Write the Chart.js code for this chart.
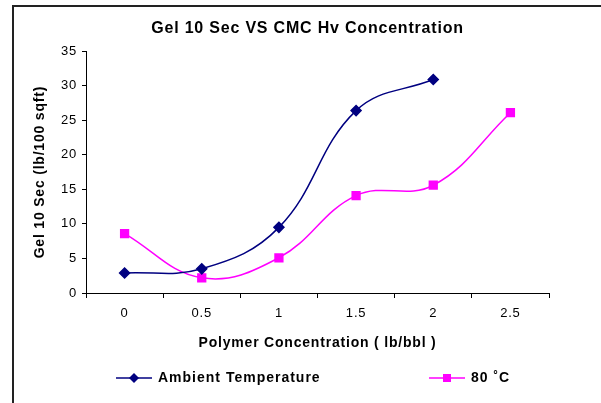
<!DOCTYPE html>
<html>
<head>
<meta charset="utf-8">
<script src="https://cdn.jsdelivr.net/npm/chart.js@4"></script>
<style>
  html, body { margin: 0; padding: 0; background: #fff; }
  #wrap { position: absolute; left: 0; top: 0; width: 601px; height: 403px; }
</style>
</head>
<body>
<div id="wrap"><canvas id="gelChart" width="601" height="403"></canvas></div>
<script>
var categories = ["0", "0.5", "1", "1.5", "2", "2.5"];
var ambientTemp = [2.9, 3.5, 9.5, 26.4, 30.9, null];
var temp80 = [8.6, 2.2, 5.1, 14.1, 15.6, 26.1];
var yMin = 0, yMax = 35, yStep = 5;

var FONT = "'Liberation Sans', Arial, sans-serif";

// the old Excel text is loosely spaced, so widen it a little
var spacingPlugin = {
	id: 'spacing',
	beforeDraw: function (chart) {
		if ('letterSpacing' in chart.ctx) chart.ctx.letterSpacing = '0.8px';
	},
	beforeDatasetsDraw: function (chart) {
		if ('letterSpacing' in chart.ctx) chart.ctx.letterSpacing = '0px';
	}
};

// frame lines + legend drawn by hand (Excel style line + marker)
var framePlugin = {
	id: 'frameAndLegend',
	afterDraw: function (chart) {
		var ctx = chart.ctx;
		ctx.save();
		ctx.fillStyle = '#222';
		ctx.fillRect(12, 5, 2, 398);
		ctx.fillRect(12, 5, 589, 2);

		var items = [
			{ x: 116, ds: chart.data.datasets[0] },
			{ x: 429, ds: chart.data.datasets[1] }
		];
		var y = 378;
		items.forEach(function (it) {
			ctx.strokeStyle = it.ds.borderColor;
			ctx.lineWidth = 1.5;
			ctx.beginPath();
			ctx.moveTo(it.x, y);
			ctx.lineTo(it.x + 36, y);
			ctx.stroke();
			ctx.fillStyle = it.ds.pointBackgroundColor;
			ctx.beginPath();
			if (it.ds.pointStyle === 'rectRot') {
				ctx.moveTo(it.x + 18, y - 5);
				ctx.lineTo(it.x + 23, y);
				ctx.lineTo(it.x + 18, y + 5);
				ctx.lineTo(it.x + 13, y);
				ctx.closePath();
				ctx.fill();
			} else {
				ctx.fillRect(it.x + 14, y - 4, 8, 8);
			}
			ctx.fillStyle = '#000';
			ctx.font = 'bold 14px ' + FONT;
			ctx.textBaseline = 'middle';
			ctx.textAlign = 'left';
			if ('letterSpacing' in ctx) ctx.letterSpacing = '1px';
			ctx.fillText(it.ds.label, it.x + 42, y);
			if ('letterSpacing' in ctx) ctx.letterSpacing = '0px';
		});
		ctx.restore();
	}
};

var ctx = document.getElementById("gelChart").getContext("2d");
var myChart = new Chart(ctx, {
	type: 'line',
	data: {
		labels: categories,
		datasets: [{
			label: 'Ambient Temperature',
			data: ambientTemp,
			borderColor: '#000080',
			backgroundColor: '#000080',
			pointBackgroundColor: '#000080',
			pointBorderColor: '#000080',
			pointStyle: 'rectRot',
			pointRadius: 5,
			borderWidth: 1.5,
			tension: 0.4,
			fill: false
		}, {
			label: '80 ˚C',
			data: temp80,
			borderColor: '#FF00FF',
			backgroundColor: '#FF00FF',
			pointBackgroundColor: '#FF00FF',
			pointBorderColor: '#FF00FF',
			pointStyle: 'rect',
			pointRadius: 5.5,
			borderWidth: 1.5,
			tension: 0.4,
			fill: false
		}]
	},
	options: {
		responsive: false,
		animation: false,
		layout: {
			padding: { left: 14, right: 0, top: 5, bottom: 40 }
		},
		plugins: {
			legend: { display: false },
			tooltip: { enabled: false },
			title: {
				display: true,
				text: 'Gel 10 Sec VS CMC Hv Concentration',
				color: '#000',
				font: { family: FONT, size: 16, weight: 'bold' },
				padding: { top: 14, bottom: 13 }
			}
		},
		scales: {
			x: {
				type: 'category',
				offset: true,
				grid: {
					offset: true,
					drawOnChartArea: false,
					drawTicks: true,
					tickLength: 5,
					color: '#000'
				},
				border: { display: true, color: '#000', width: 1 },
				ticks: {
					color: '#000',
					font: { family: FONT, size: 13 },
					padding: 8,
					maxRotation: 0
				},
				title: {
					display: true,
					text: 'Polymer Concentration ( lb/bbl )',
					color: '#000',
					font: { family: FONT, size: 14, weight: 'bold' },
					padding: { top: 0, bottom: 11 }
				},
				afterFit: function (scale) { scale.height = 70; }
			},
			y: {
				min: yMin,
				max: yMax,
				grid: {
					drawOnChartArea: false,
					drawTicks: true,
					tickLength: 4,
					color: '#000'
				},
				border: { display: true, color: '#000', width: 1 },
				ticks: {
					stepSize: yStep,
					color: '#000',
					font: { family: FONT, size: 13 },
					padding: 5
				},
				title: {
					display: true,
					text: 'Gel 10 Sec (lb/100 sqft)',
					color: '#000',
					font: { family: FONT, size: 14, weight: 'bold' },
					padding: { top: 18, bottom: 0 }
				},
				afterFit: function (scale) { scale.width = 72; }
			},
			yRight: {
				position: 'right',
				display: true,
				grid: { display: false },
				border: { display: false },
				ticks: { display: false },
				afterFit: function (scale) { scale.width = 52; }
			}
		}
	},
	plugins: [spacingPlugin, framePlugin]
});
</script>
</body>
</html>
